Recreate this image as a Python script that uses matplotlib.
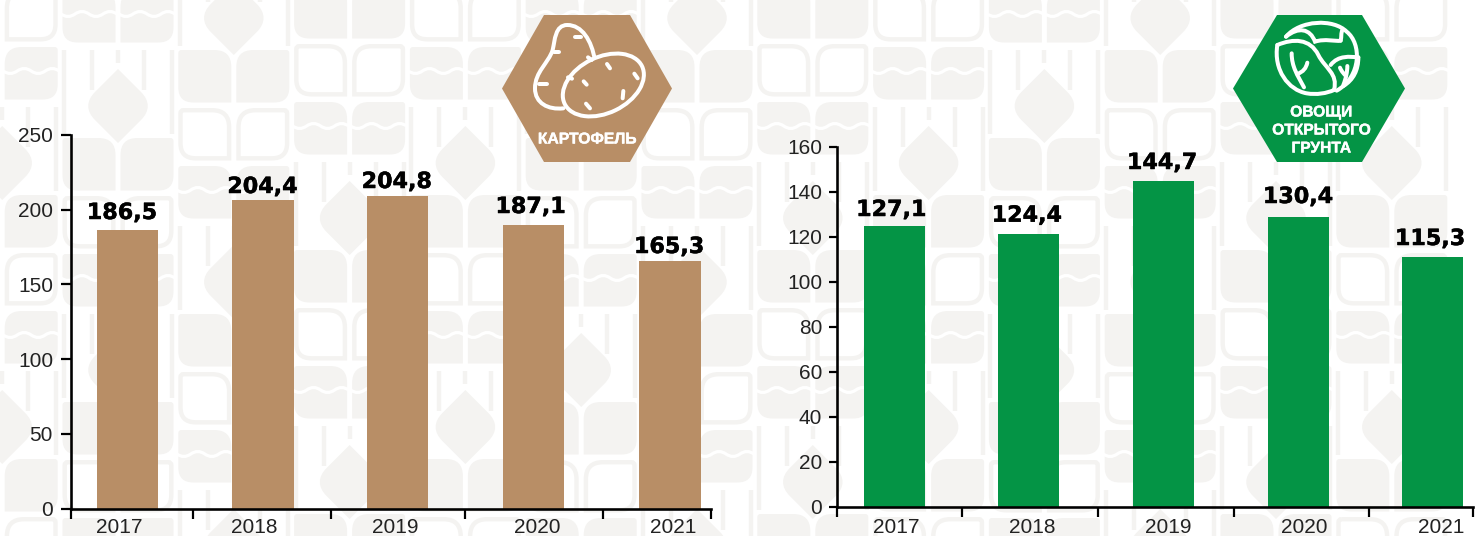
import matplotlib
matplotlib.use("Agg")
import matplotlib.pyplot as plt
import matplotlib.patheffects as pe
from matplotlib.path import Path
from matplotlib.patches import PathPatch, Polygon, Ellipse

years = ["2017", "2018", "2019", "2020", "2021"]

potato_bars = [186.4, 206.5, 209.2, 189.8, 165.7]
potato_labels = ["186,5", "204,4", "204,8", "187,1", "165,3"]
potato_yticks = [0, 50, 100, 150, 200, 250]

veg_bars = [124.8, 121.2, 144.7, 128.7, 110.9]
veg_labels = ["127,1", "124,4", "144,7", "130,4", "115,3"]
veg_yticks = [0, 20, 40, 60, 80, 100, 120, 140, 160]

W, H = 1475, 536
BG = "#f4f3f1"
BROWN = "#b88e66"
GREEN = "#049445"
TICK_FONT = "Liberation Sans"
px = 72 / 100


def rounded(x, y, w, h, tl, tr, br, bl):
    v = [(x + tl, y), (x + w - tr, y), (x + w, y), (x + w, y + tr), (x + w, y + h - br),
         (x + w, y + h), (x + w - br, y + h), (x + bl, y + h), (x, y + h), (x, y + h - bl),
         (x, y + tl), (x, y), (x + tl, y), (x + tl, y)]
    c = [Path.MOVETO, Path.LINETO, Path.CURVE3, Path.CURVE3, Path.LINETO, Path.CURVE3, Path.CURVE3,
         Path.LINETO, Path.CURVE3, Path.CURVE3, Path.LINETO, Path.CURVE3, Path.CURVE3, Path.CLOSEPOLY]
    return Path(v, c)


def half_shapes(cx, y, inset=0):
    w = 53 - 2 * inset
    h = 52.5 - 2 * inset
    yy = y + inset
    return (rounded(cx - 55.5 + inset, yy, w, h, 3, 17, 0, 15),
            rounded(cx + 2.5 + inset, yy, w, h, 17, 3, 15, 0))


def tile_filled(ax, cx, y):
    for p in half_shapes(cx, y):
        ax.add_patch(PathPatch(p, fc=BG, ec="none"))


def tile_outlined(ax, cx, y):
    for p in half_shapes(cx, y, 2.2):
        ax.add_patch(PathPatch(p, fc="none", ec=BG, lw=4.4 * px))


def tile_wave(ax, cx, y):
    tile_filled(ax, cx, y)
    for x0 in (cx - 57, cx + 1):
        v = [(x0, y + 24)]
        c = [Path.MOVETO]
        step = 56 / 4
        for i in range(4):
            dy = 5 if i % 2 == 0 else -5
            v += [(x0 + step * (i + 0.5), y + 24 + dy), (x0 + step * (i + 1), y + 24)]
            c += [Path.CURVE3, Path.CURVE3]
        ax.add_patch(PathPatch(Path(v, c), fc="none", ec="white", lw=3.2 * px))


def tile_drop(ax, cx, top):
    cy = top + 56
    v = [(cx, cy - 37), (cx + 23, cy - 14), (cx + 32, cy - 5), (cx + 32, cy + 5), (cx + 23, cy + 14),
         (cx, cy + 37), (cx - 23, cy + 14), (cx - 32, cy + 5), (cx - 32, cy - 5), (cx - 23, cy - 14),
         (cx, cy - 37)]
    c = [Path.MOVETO, Path.LINETO, Path.CURVE4, Path.CURVE4, Path.CURVE4, Path.LINETO, Path.LINETO,
         Path.CURVE4, Path.CURVE4, Path.CURVE4, Path.CLOSEPOLY]
    ax.add_patch(PathPatch(Path(v, c), fc=BG, ec="none"))
    for dx, end in ((-54, 84), (54, 84), (-26, 40), (26, 40), (0, 13)):
        ax.plot([cx + dx, cx + dx], [top, top + end], color=BG, lw=4.4 * px, solid_capstyle="butt", zorder=1)


def background(ax):
    offsets = [195, 138, 50, -14]
    for k in range(13):
        cx = 2.2 + 115.8 * k
        for n in range(-1, 3):
            f = offsets[k % 4] + 264 * n
            tile_filled(ax, cx, f)
            tile_outlined(ax, cx, f + 58)
            tile_wave(ax, cx, f + 116)
            tile_drop(ax, cx, f + 176)


def hexagon(ax, left, right, a, b, color):
    ax.add_patch(Polygon([(a, 15), (b, 15), (right, 88.5), (b, 162), (a, 162), (left, 88.5)],
                         closed=True, fc=color, ec="none", zorder=3))


def stroke(ax, pts, ox, lw=4.0, fc="none"):
    pts = [(ox + x / 3, y / 3) for x, y in pts]
    c = [Path.MOVETO] + [Path.CURVE4] * (len(pts) - 1)
    ax.add_patch(PathPatch(Path(pts, c), fc=fc, ec="white", lw=lw * px, capstyle="round", zorder=4))


def potato_icon(ax):
    ox = 480
    stroke(ax, [(345, 182), (335, 120), (305, 75), (262, 75), (225, 75), (225, 120), (218, 150),
                (205, 190), (165, 215), (165, 265), (165, 310), (205, 330), (250, 325)], ox)
    ax.add_patch(Ellipse((ox + 370 / 3, 255 / 3), 86, 56, angle=-26, fc=BROWN, ec="white", lw=4 * px, zorder=4))
    for a, b in [((285, 112), (302, 112)), ((222, 155), (237, 155)), ((324, 172), (335, 180)),
                 ((177, 253), (200, 253)), ((264, 232), (276, 236)), ((381, 192), (390, 205)),
                 ((463, 221), (473, 235)), ((311, 244), (320, 254)), ((430, 273), (428, 295)),
                 ((318, 311), (330, 325))]:
        ax.plot([ox + a[0] / 3, ox + b[0] / 3], [a[1] / 3, b[1] / 3], color="white", lw=4 * px,
                solid_capstyle="round", zorder=5)


def cabbage_icon(ax):
    ox = 1210
    stroke(ax, [(228, 110), (270, 60), (370, 55), (410, 95), (455, 130), (455, 230), (380, 272)], ox)
    stroke(ax, [(202, 135), (250, 115), (300, 115), (325, 165), (345, 205), (385, 220), (372, 270)], ox)
    stroke(ax, [(202, 135), (190, 210), (235, 270), (290, 280), (320, 285), (350, 280), (372, 270)], ox)
    stroke(ax, [(228, 110), (265, 80), (300, 85), (315, 125), (345, 115), (375, 125), (392, 122)], ox)
    stroke(ax, [(392, 122), (395, 110), (392, 100), (398, 88)], ox)
    stroke(ax, [(362, 195), (385, 165), (420, 170), (445, 172)], ox)
    stroke(ax, [(445, 172), (445, 210), (430, 240), (400, 258)], ox)
    stroke(ax, [(245, 160), (245, 200), (262, 225), (282, 262)], ox)
    stroke(ax, [(262, 222), (280, 215), (288, 205), (292, 188)], ox)
    stroke(ax, [(412, 198), (412, 215), (408, 235), (400, 255)], ox)
    stroke(ax, [(390, 203), (395, 215), (402, 222), (408, 228)], ox)


def chart(fig, left, right, y0, y1, values, labels, yticks, color, centers, label_pos, year_pos,
          seps, ylim, tick_len, tick_pad):
    ax = fig.add_axes([left / W, 1 - y0 / H, (right - left) / W, (y0 - y1) / H], zorder=2)
    ax.patch.set_alpha(0)
    ax.set_xlim(left, right)
    ax.set_ylim(0, ylim)
    ax.bar(centers, values, width=61.5, color=color, linewidth=0)
    ax.spines["top"].set_visible(False)
    ax.spines["right"].set_visible(False)
    ax.spines["left"].set_linewidth(2.6 * px)
    ax.spines["bottom"].set_linewidth(2.6 * px)
    ax.set_yticks(yticks)
    ax.set_yticklabels([str(t) for t in yticks], fontfamily=TICK_FONT, fontsize=15, color="#222222")
    ax.tick_params(axis="y", length=tick_len * px, width=2.2 * px, pad=tick_pad * px)
    ax.set_xticks(seps)
    ax.set_xticklabels([])
    ax.tick_params(axis="x", length=10 * px, width=2.2 * px)
    trans = ax.get_xaxis_transform()
    for x, t in zip(year_pos, years):
        ax.text(x, -(533 - y0) / (y0 - y1), t, transform=trans, ha="center", va="baseline",
                fontfamily=TICK_FONT, fontsize=15, color="#222222", clip_on=False)
    for (x, base), t in zip(label_pos, labels):
        ax.text(x, (y0 - base) / (y0 - y1) * ylim, t, ha="center", va="baseline",
                fontfamily="DejaVu Sans", fontweight="bold", fontsize=16, color="black",
                path_effects=[pe.withStroke(linewidth=0.35, foreground="black")])
    return ax


fig = plt.figure(figsize=(W / 100, H / 100), dpi=100, facecolor="white")
bg = fig.add_axes([0, 0, 1, 1], zorder=0)
bg.set_xlim(0, W)
bg.set_ylim(H, 0)
bg.axis("off")
background(bg)

hexagon(bg, 502, 672, 544, 630, BROWN)
hexagon(bg, 1233, 1405, 1277, 1362, GREEN)
potato_icon(bg)
cabbage_icon(bg)
bold = [pe.withStroke(linewidth=0.3, foreground="white")]
bg.text(587, 139, "КАРТОФЕЛЬ", color="white", ha="center", va="center", fontfamily="Liberation Sans",
        fontweight="bold", fontsize=11.3, zorder=6, path_effects=bold)
for y, t in zip((112, 130, 148), ("ОВОЩИ", "ОТКРЫТОГО", "ГРУНТА")):
    bg.text(1321, y, t, color="white", ha="center", va="center", fontfamily="Liberation Sans",
            fontweight="bold", fontsize=11.2, zorder=6, path_effects=bold)

chart(fig, 71, 711, 508.7, 135, potato_bars, potato_labels, potato_yticks, BROWN,
      [127.5, 263, 398, 534, 670.5],
      [(122, 219), (262.5, 193), (397, 188), (531, 213), (669.5, 253)],
      [119, 254.5, 396, 538, 674], [71, 193, 331, 465, 603, 711.5], 250, 10, 8)
chart(fig, 837, 1473, 506.7, 147, veg_bars, veg_labels, veg_yticks, GREEN,
      [894.5, 1028.5, 1163.5, 1298.5, 1432.5],
      [(891.3, 216), (1026.7, 221.7), (1162, 169), (1298, 203), (1430, 245)],
      [896, 1032, 1168, 1304.5, 1441], [837, 962, 1098, 1234, 1369, 1472.5], 160, 8, 7)

fig.savefig("out.png", dpi=100)
